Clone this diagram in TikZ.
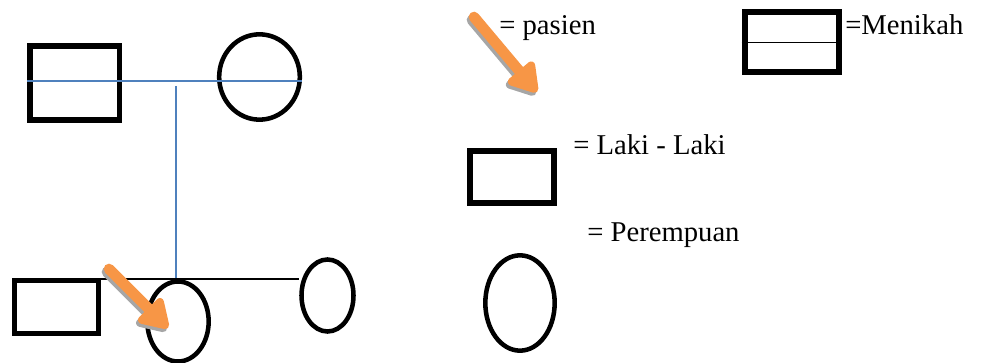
\documentclass[tikz,border=0pt]{standalone}
\usepackage{fontspec}
\setmainfont{Liberation Serif}
\newfontfamily\legendfont{Liberation Serif}
\usetikzlibrary{positioning,arrows.meta,shapes.geometric,calc}
\definecolor{lineblue}{HTML}{4F81BD}
\definecolor{ptorange}{HTML}{F79646}
\definecolor{shadowgray}{HTML}{A6A6A6}

\begin{document}
\begin{tikzpicture}[x=0.75pt, y=-0.75pt,
  male/.style={draw, rectangle, line width=4pt, inner sep=0pt},
  female/.style={draw, ellipse, line width=3.4pt, inner sep=0pt},
  marry/.style={lineblue, line width=1.4pt},
  sib/.style={black, line width=1.2pt},
  ptarrow/.style={ptorange, line width=8pt, line cap=round,
                  -{Triangle[length=24pt, width=28pt, round]}},
  ptshadow/.style={ptarrow, shadowgray},
  lbl/.style={font=\legendfont\fontsize{21.5}{25}\selectfont, anchor=base west, inner sep=0pt},
]
\useasboundingbox (0,0) rectangle (982,363);

% parents
\node[male, minimum width=67pt, minimum height=55.5pt] (ayah) at (74.5,83) {};
\node[female, minimum width=60.5pt, minimum height=64pt] (ibu) at (259.5,77) {};
\coordinate (kawin) at (176,81);
\draw[marry] (ayah.west |- kawin) -- (ibu.east |- kawin);
\coordinate (turun) at (176,86);
\coordinate (anak) at (176,278);
\draw[marry] (turun) -- (anak);

% children
\node[male, minimum width=63pt, minimum height=40pt] (kakak) at (56.5,307) {};
\node[female, minimum width=46pt, minimum height=60pt] (pasien) at (178,321.5) {};
\node[female, minimum width=39pt, minimum height=54pt] (adik) at (327.5,295.5) {};
\coordinate (sibL) at (80,279);
\draw[sib] (sibL) -- (sibL -| adik.west);

% patient arrow
\coordinate (pa1) at (109,269);
\coordinate (pa2) at (168,328);
\draw[ptshadow] ($(pa1)+(-2,3)$) -- ($(pa2)+(-2,3)$);
\draw[ptarrow] (pa1) -- (pa2);

% legend
\coordinate (la1) at (474,17);
\coordinate (la2) at (537,92);
\draw[ptshadow] ($(la1)+(-2,3)$) -- ($(la2)+(-2,3)$);
\draw[ptarrow] (la1) -- (la2);
\node[lbl] (tPasien) at (499,35) {= pasien};

\node[male, line width=4.5pt, minimum width=71pt, minimum height=45pt] (lgMenikah) at (792,42.5) {};
\draw[line width=1.2pt] (lgMenikah.west) -- (lgMenikah.east);
\node[lbl] (tMenikah) at (845,35) {=Menikah};

\node[male, minimum width=63pt, minimum height=39pt] (lgLaki) at (512,177) {};
\node[lbl] (tLaki) at (573,155) {= Laki - Laki};

\node[female, minimum width=52pt, minimum height=71.5pt] (lgPerempuan) at (520,303) {};
\node[lbl] (tPerempuan) at (587,242) {= Perempuan};
\end{tikzpicture}
\end{document}
